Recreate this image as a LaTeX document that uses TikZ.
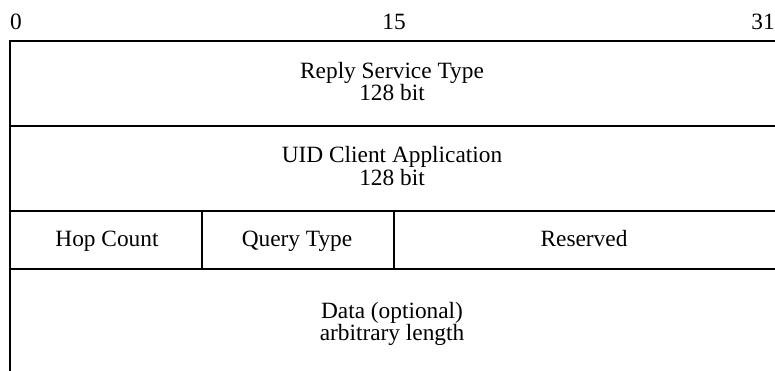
\documentclass[tikz,border=0pt]{standalone}
\usepackage{fontspec}
\setmainfont{Liberation Serif}
\begin{document}
\begin{tikzpicture}[x=0.75pt,y=-0.75pt,
  rule/.style={line width=0.9pt,black},
  label/.style={font=\fontsize{17.5}{18}\selectfont,inner sep=0pt,anchor=base}]
\useasboundingbox (0,0) rectangle (775,371);
% bit positions
\node[label] (b0) at (16,30) {0};
\node[label] (b15) at (394,30) {15};
\node[label,anchor=base east] (b31) at (775,30) {31};
% field borders
\draw[rule] (775,41) -- (10,41) -- (10,371);
\draw[rule] (10,126) -- (775,126);
\draw[rule] (10,211) -- (775,211);
\draw[rule] (10,269) -- (775,269);
\draw[rule] (202,211) -- (202,269);
\draw[rule] (394,211) -- (394,269);
% field labels
\node[label] (rst) at (392,78) {Reply Service Type};
\node[label] (rstlen) at (392,100) {128 bit};
\node[label] (uid) at (392,162) {UID Client Application};
\node[label] (uidlen) at (392,185) {128 bit};
\node[label] (hop) at (107,246) {Hop Count};
\node[label] (qt) at (297,246) {Query Type};
\node[label] (res) at (584,246) {Reserved};
\node[label] (data) at (392,318) {Data (optional)};
\node[label] (datalen) at (392,340) {arbitrary length};
\end{tikzpicture}
\end{document}
